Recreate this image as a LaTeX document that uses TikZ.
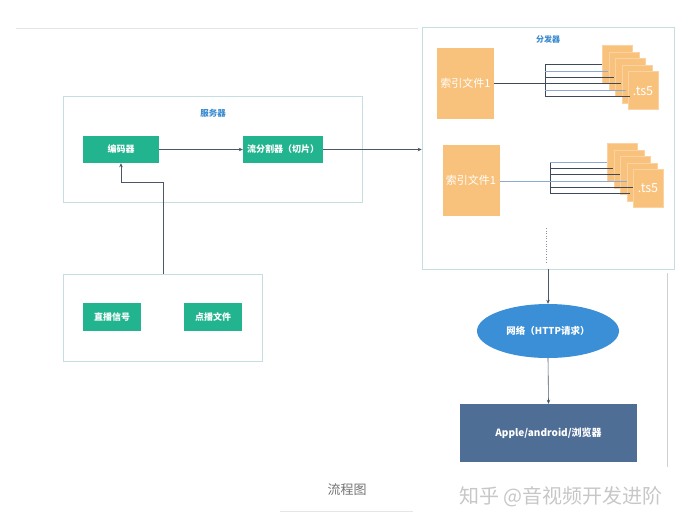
\documentclass[tikz,border=0pt]{standalone}
\usepackage{fontspec}
\setmainfont{Noto Sans CJK SC}
\usetikzlibrary{shapes.geometric,arrows.meta}
\definecolor{grn}{HTML}{22B48E}
\definecolor{org}{HTML}{F9C27C}
\definecolor{orgl}{HTML}{FBD2A0}
\definecolor{ttl}{HTML}{3A8BD0}
\definecolor{frm}{HTML}{C5DEDF}
\definecolor{ell}{HTML}{3A8FD6}
\definecolor{cli}{HTML}{4F6E96}
\definecolor{dk}{HTML}{3E4A5A}
\definecolor{lb}{HTML}{8DAAD0}
\definecolor{arr}{HTML}{4A5868}
\definecolor{rule}{HTML}{E2E6E8}
\tikzset{
  frame/.style={draw=frm,line width=0.7pt,fill=white},
  gbox/.style={fill=grn,text=white,font=\fontsize{9}{10}\selectfont\bfseries,minimum height=27pt,inner sep=0pt},
  ttlt/.style={text=ttl,font=\fontsize{8}{9}\selectfont\bfseries},
  idx/.style={fill=org,text=white,font=\fontsize{11}{12}\selectfont,minimum width=57pt,minimum height=71pt,inner sep=0pt},
  page/.style={fill=org,draw=orgl,line width=0.4pt,minimum width=30pt,minimum height=38pt,inner sep=0pt,anchor=north west},
  conn/.style={draw=arr,line width=0.6pt,-{Stealth[length=4pt,width=3.5pt]}},
  dkl/.style={draw=dk,line width=0.6pt},
  lbl/.style={draw=lb,line width=0.6pt},
}
\begin{document}
\begin{tikzpicture}[x=1pt,y=-1pt]
\useasboundingbox (0,0) rectangle (682,525);
% rules
\draw[rule,line width=0.7pt] (16,28) coordinate (r1a) -- (418,28) coordinate (r1b);
\draw[rule,line width=0.7pt] (280,511) coordinate (r2a) -- (413,511) coordinate (r2b);
\draw[draw=rule!80!gray,line width=0.7pt] (667,273) coordinate (r3a) -- (667,467) coordinate (r3b);
% server frame
\node[frame,minimum width=299pt,minimum height=106pt,inner sep=0pt] (server) at (212.5,149) {};
\node[ttlt,font=\fontsize{8.5}{9}\selectfont\bfseries] (servert) at (213,113) {服务器};
\node[gbox,minimum width=76pt] (enc) at (121,149.5) {编码器};
\node[gbox,minimum width=80pt] (split) at (283,149.5) {流分割器（切片）};
% signal frame
\node[frame,minimum width=199pt,minimum height=87pt,inner sep=0pt] (src) at (162.5,317.5) {};
\node[gbox,minimum width=58pt,minimum height=28pt] (live) at (112,317) {直播信号};
\node[gbox,minimum width=58pt,minimum height=28pt] (vod) at (213,317) {点播文件};
% distributor frame
\node[frame,minimum width=252pt,minimum height=242pt,inner sep=0pt] (dist) at (548,148) {};
\node[ttlt] (distt) at (548,39) {分发器};
% index files
\node[idx] (idx1) at (465.5,83.5) {索引文件1};
\node[idx] (idx2) at (471,180.5) {索引文件1};
% ts stack 1
\foreach \i in {0,...,4}{
  \node[page] (pa\i) at (602+6.5*\i,45+6.5*\i) {};
}
\node[text=white,font=\fontsize{12.5}{13}\selectfont] (ts1) at (643,91) {.ts5};
% ts stack 2
\foreach \i in {0,...,4}{
  \node[page] (pb\i) at (607+6.5*\i,143+6.5*\i) {};
}
\node[text=white,font=\fontsize{12.5}{13}\selectfont] (ts2) at (648,188) {.ts5};
% bracket 1
\coordinate (b1t) at (545,64);
\coordinate (b1b) at (545,96);
\draw[dkl] (b1t) -- (b1b);
\draw[dkl] (b1t) -- (602,64);
\draw[lbl] (545,71) -- (608,71);
\draw[dkl] (545,77) -- (614,77);
\draw[dkl] (idx1.east |- 0,83) -- (621,83);
\draw[lbl] (545,90) -- (626,90);
\draw[dkl] (b1b) -- (630,96);
% bracket 2
\coordinate (b2t) at (550,162);
\coordinate (b2b) at (550,193);
\draw[dkl] (b2t) -- (b2b);
\draw[lbl] (b2t) -- (607,162);
\draw[dkl] (550,168) -- (613,168);
\draw[dkl] (550,174) -- (620,174);
\draw[lbl] (idx2.east |- 0,181) -- (627,181);
\draw[dkl] (550,187) -- (633,187);
\draw[dkl] (b2b) -- (630,193);
% dots
\draw[draw=dk!60,line width=0.6pt,dotted] (546,228) coordinate (d1) -- (546,263) coordinate (d2);
% network & clients
\node[ellipse,fill=ell,text=white,minimum width=142pt,minimum height=54pt,inner sep=0pt,font=\fontsize{9.5}{10}\selectfont\bfseries] (net) at (548,331) {网络（HTTP请求）};
\node[fill=cli,text=white,minimum width=177pt,minimum height=58pt,inner sep=0pt,font=\fontsize{10}{11}\selectfont\bfseries] (cli) at (548.5,433) {Apple/android/浏览器};
% connectors
\draw[conn] (enc.east) -- (split.west);
\draw[conn] (split.east) -- (dist.west |- split.east);
\draw[conn] (src.north -| 163,0) -- (163,182) -- (121,182) -- (enc.south);
\draw[conn] (dist.south -| net.north) -- (net.north);
\draw[conn] (net.south) -- (cli.north);
% captions
\node[text=black!55,font=\fontsize{13}{14}\selectfont] (cap) at (347,490) {流程图};
\node[text=black!22,font=\fontsize{20}{22}\selectfont] (wm) at (561,497) {知乎 @音视频开发进阶};
\end{tikzpicture}
\end{document}
